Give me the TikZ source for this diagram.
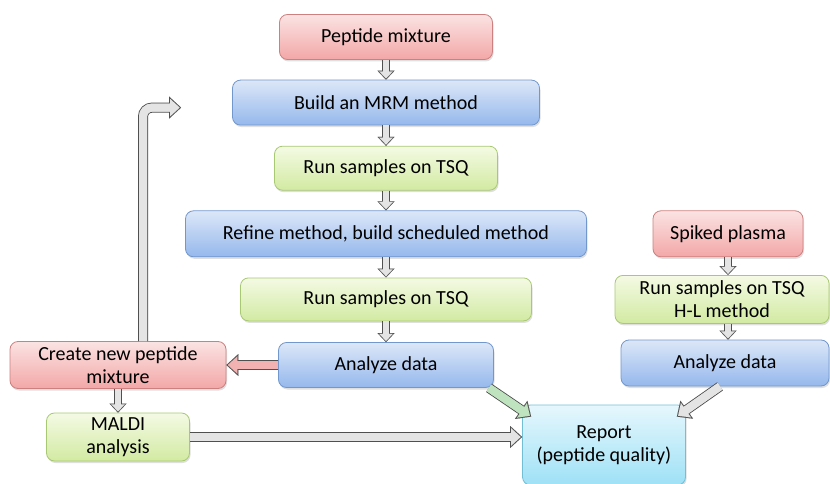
\documentclass[tikz,border=0pt]{standalone}
\usepackage{fontspec}
\setmainfont{Carlito}
\usepackage{xcolor}
\usepackage{tikz}
\usetikzlibrary{arrows.meta,shadows}
\definecolor{redtop}{HTML}{FBE3E3}
\definecolor{redbot}{HTML}{F3A7A7}
\definecolor{redline}{HTML}{CD8080}
\definecolor{bluetop}{HTML}{DCE7F8}
\definecolor{bluebot}{HTML}{95B8EC}
\definecolor{blueline}{HTML}{7297CC}
\definecolor{greentop}{HTML}{F4FAE4}
\definecolor{greenbot}{HTML}{D2EAA2}
\definecolor{greenline}{HTML}{A9C874}
\definecolor{cyantop}{HTML}{E6F7FD}
\definecolor{cyanbot}{HTML}{9EE1F6}
\definecolor{cyanline}{HTML}{72BFD5}
\definecolor{shaftgray}{HTML}{E4E4E4}
\definecolor{arrowline}{HTML}{505050}
\definecolor{greenarrow}{HTML}{BFE3BF}
\definecolor{redarrow}{HTML}{F3B2B2}
\tikzstyle{box} = [draw, rounded corners=8pt, line width=0.8pt, align=center,
  font=\fontsize{20}{23}\selectfont,
  drop shadow={shadow xshift=1pt, shadow yshift=-2pt, opacity=0.25}]
\tikzstyle{redbox} = [box, draw=redline, top color=redtop, bottom color=redbot]
\tikzstyle{bluebox} = [box, draw=blueline, top color=bluetop, bottom color=bluebot]
\tikzstyle{greenbox} = [box, draw=greenline, top color=greentop, bottom color=greenbot]
\tikzstyle{cyanbox} = [box, draw=cyanline, top color=cyantop, bottom color=cyanbot]
\tikzset{
  arrow/.style={line width=8pt, draw=#1,
    -{Triangle[length=9.5pt, width=17.4pt, line width=0.01pt, fill=#1]}, shorten >=1.5pt,
    preaction={draw=arrowline, line width=10pt,
      -{Triangle[length=12pt, width=22pt, line width=0.01pt, fill=arrowline]}, shorten >=0pt},
    postaction={draw=#1, line width=8pt, -, shorten >=10.5pt}},
  arrow/.default=shaftgray,
  smallarrow/.style={line width=6.4pt, draw=shaftgray,
    -{Triangle[length=7pt, width=13.3pt, line width=0.01pt, fill=shaftgray]}, shorten >=1.2pt,
    preaction={draw=arrowline, line width=8pt,
      -{Triangle[length=9pt, width=17pt, line width=0.01pt, fill=arrowline]}, shorten >=0pt},
    postaction={draw=shaftgray, line width=6.4pt, -, shorten >=7.2pt}}
}

\begin{document}
\begin{tikzpicture}[x=1pt, y=1pt, node distance=65.6pt]
		\useasboundingbox (0,0) rectangle (830,483);
		\node (mix) [redbox, minimum width=213pt, minimum height=45pt] at (386,446) {Peptide mixture};
		\node (build) [bluebox, below of=mix, minimum width=307pt, minimum height=45pt] {Build an MRM method};
		\node (run1) [greenbox, below of=build, minimum width=223pt, minimum height=44pt] {Run samples on TSQ};
		\node (refine) [bluebox, below of=run1, minimum width=401pt, minimum height=46pt] {Refine method, build scheduled method};
		\node (run2) [greenbox, below of=refine, minimum width=291pt, minimum height=43pt] {Run samples on TSQ};
		\node (analyze) [bluebox, below of=run2, minimum width=215pt, minimum height=45pt] {Analyze data};
		\node (create) [redbox, left of=analyze, xshift=-202.4pt, minimum width=216pt, minimum height=47pt] {Create new peptide\\mixture};
		\node (maldi) [greenbox, below of=create, yshift=-6.4pt, minimum width=143pt, minimum height=48pt] {MALDI\\analysis};
		\node (report) [cyanbox, right of=analyze, xshift=152.4pt, yshift=-80pt, minimum width=163pt, minimum height=80pt] {Report\\(peptide quality)};
		\node (plasma) [redbox, right of=refine, xshift=276.4pt, minimum width=150pt, minimum height=46pt] {Spiked plasma};
		\node (runhl) [greenbox, below of=plasma, xshift=-6pt, minimum width=214pt, minimum height=48pt] {Run samples on TSQ\\H-L method};
		\node (analyze2) [bluebox, below of=runhl, xshift=3pt, yshift=2pt, minimum width=208pt, minimum height=46pt] {Analyze data};
		\coordinate (loop) at ([xshift=-51pt, yshift=-5pt]build.west);
		
		\draw [smallarrow] (mix) -- (build);
		\draw [smallarrow] (build) -- (run1);
		\draw [smallarrow] (run1) -- (refine);
		\draw [smallarrow] (refine) -- (run2);
		\draw [smallarrow] (run2) -- (analyze);
		\draw [arrow=redarrow] (analyze) -- (create);
		\draw [smallarrow] (create) -- (maldi);
		\draw [arrow] (maldi) -- (maldi -| report.west);
		\draw [arrow=greenarrow] ([xshift=-5pt]analyze.south east) -- ([xshift=9pt, yshift=-12pt]report.north west);
		\draw [arrow] ([xshift=-5pt]analyze2.south) -- ([xshift=-9pt, yshift=-12pt]report.north east);
		\draw [smallarrow] (plasma.south) -- (plasma.south |- runhl.north);
		\draw [smallarrow] (plasma.south |- runhl.south) -- (plasma.south |- analyze2.north);
		\draw [arrow, rounded corners=9pt] ([xshift=25pt]create.north) |- (loop);
	\end{tikzpicture}
\end{document}
